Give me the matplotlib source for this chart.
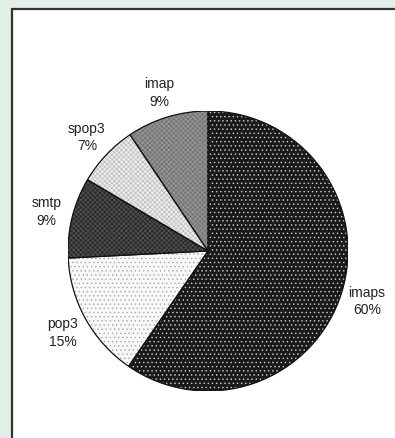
import matplotlib
matplotlib.use("Agg")
import matplotlib.pyplot as plt
import numpy as np
from matplotlib.patches import Rectangle, Wedge

categories = ["imaps", "pop3", "smtp", "spop3", "imap"]
values = [59.6, 14.6, 9.3, 7.1, 9.4]
face_colors = ["#1a1a1a", "#f8f8f8", "#2c2c2c", "#ececec", "#777777"]
hatch_colors = ["#cfcfcf", "#a8a8a8", "#555555", "#bdbdbd", "#9a9a9a"]
hatches = ["....", "....", "xxxxxxx", "xxxxxxx", "xxxxxxx"]

plt.rcParams['hatch.linewidth'] = 0.5

W, H = 395, 439
fig = plt.figure(figsize=(W / 100, H / 100), dpi=100)
fig.patch.set_facecolor("#e0f0e6")

# white panel with dark border on top and left
fig.patches.append(Rectangle((12 / W, -0.01), 1.02, (H - 10) / H + 0.01,
                             transform=fig.transFigure, facecolor="white",
                             edgecolor="#333333", linewidth=1.6, zorder=-5))

cx, cy, R = 208, 252, 140
ax = fig.add_axes([(cx - R) / W, (H - cy - R) / H, 2 * R / W, 2 * R / H])
ax.set_zorder(5)
ax.patch.set_alpha(0)

wedges, _ = ax.pie(values, startangle=90, counterclock=False, radius=1,
                   colors=face_colors,
                   wedgeprops=dict(edgecolor="none", linewidth=0))
ax.set_xlim(-1, 1)
ax.set_ylim(-1, 1)
ax.axis("off")
for w, hc, hp in zip(wedges, hatch_colors, hatches):
    ov = Wedge(w.center, w.r, w.theta1, w.theta2,
               facecolor="none", edgecolor=hc, hatch=hp, linewidth=0)
    ax.add_patch(ov)
    ol = Wedge(w.center, w.r, w.theta1, w.theta2,
               facecolor="none", edgecolor="#111111", linewidth=0.9)
    ax.add_patch(ol)

total = sum(values)
for w, cat, v in zip(wedges, categories, values):
    ang = np.deg2rad((w.theta1 + w.theta2) / 2)
    d = 1.19
    pct = int(np.floor(100 * v / total + 0.5))
    ax.text(d * np.cos(ang), d * np.sin(ang), f"{cat}\n{pct}%",
            ha="center", va="center", fontsize=10, family="Liberation Sans",
            color="#222222", linespacing=1.35, multialignment="center",
            clip_on=False)

fig.savefig("out.png", dpi=100, facecolor=fig.get_facecolor())
